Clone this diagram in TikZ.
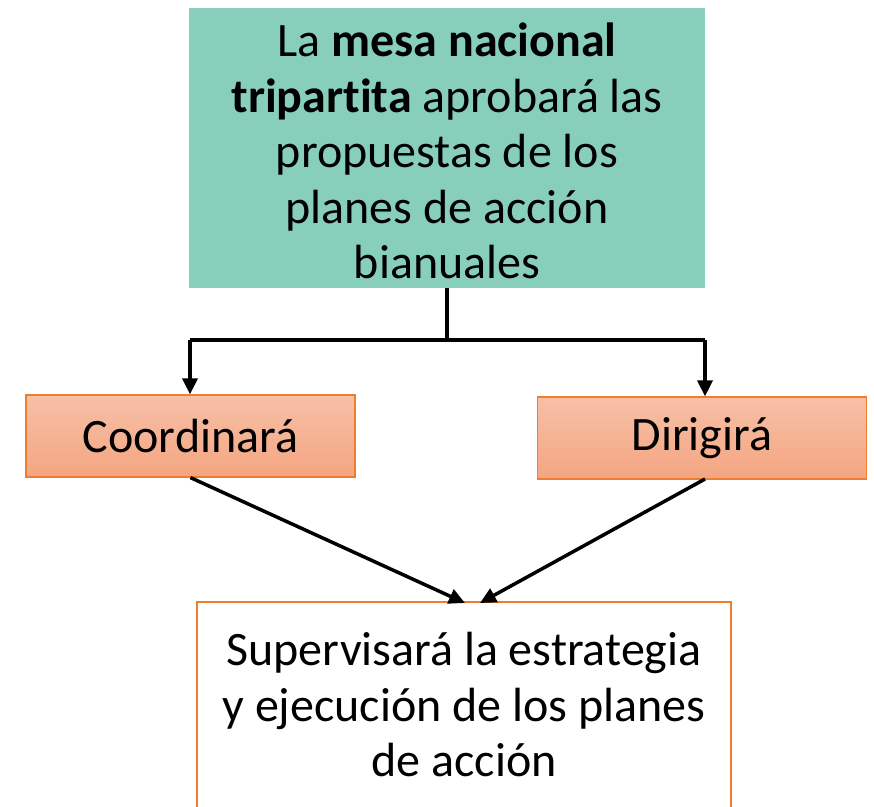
\documentclass[tikz,border=0pt]{standalone}
\usepackage{fontspec}
\setmainfont[Ligatures=NoCommon]{Carlito}
\usetikzlibrary{arrows.meta}
\definecolor{teal1}{HTML}{88CFBB}
\definecolor{orng}{HTML}{ED7D31}
\definecolor{salmonT}{HTML}{F7C0A7}
\definecolor{salmonB}{HTML}{F4A581}
\begin{document}
\begin{tikzpicture}[x=1pt,y=-1pt,
  txt/.style={font=\fontsize{48}{55.5}\selectfont, align=center, inner sep=0pt},
  topbox/.style={txt, fill=teal1, minimum width=516pt, minimum height=280pt},
  midbox/.style={txt, draw=orng, line width=1.2pt, top color=salmonT, bottom color=salmonB, minimum width=329pt, minimum height=82pt},
  supbox/.style={txt, draw=orng, line width=1.5pt, fill=white, minimum width=534pt, minimum height=240pt},
  conn/.style={line width=3.5pt, -{Triangle[width=15pt,length=16pt]}},
  plain/.style={line width=3.5pt}]
\useasboundingbox[fill=white] (0,0) rectangle (874,806);
\node[topbox] (top) at (447,148) {};
\node[txt] (toptxt) at (447,151) {La \textbf{mesa nacional}\\\textbf{tripartita} aprobará las\\propuestas de los\\planes de acción\\bianuales};
\node[midbox] (coord) at (190.5,436) {Coordinará};
\node[midbox] (dir) at (702,438) {Dirigirá};
\node[supbox] (sup) at (464,722) {};
\node[txt, anchor=north] (suptxt) at (464,632) {Supervisará la estrategia\\y ejecución de los planes\\de acción};
\coordinate (j) at (447,340);
\coordinate (jl) at (190,340);
\coordinate (jr) at (705,340);
\draw[plain] (top.south) -- (j);
\draw[plain] (jl) -- (jr);
\draw[conn] (jl) -- (coord.north -| jl);
\draw[conn] (jr) -- (dir.north -| jr);
\draw[conn] (coord.south) -- (465,603);
\draw[conn] (705,479) -- (480,603);
\end{tikzpicture}
\end{document}
